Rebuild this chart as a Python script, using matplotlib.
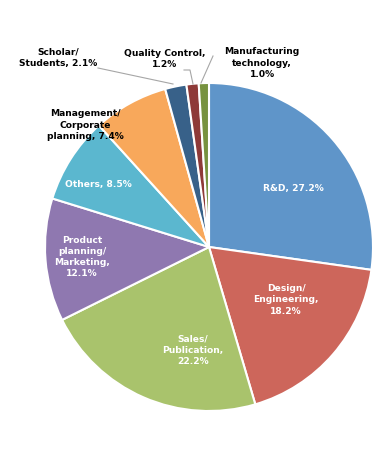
import matplotlib
matplotlib.use("Agg")
import matplotlib.pyplot as plt

labels = ["R&D, 27.2%", "Design/\nEngineering,\n18.2%", "Sales/\nPublication,\n22.2%",
          "Product\nplanning/\nMarketing,\n12.1%", "Others, 8.5%",
          "Management/\nCorporate\nplanning, 7.4%", "Scholar/\nStudents, 2.1%",
          "Quality Control,\n1.2%", "Manufacturing\ntechnology,\n1.0%"]
shares = [27.2, 18.2, 22.2, 12.1, 8.5, 7.4, 2.1, 1.2, 1.0]
colors = ["#5f95c9", "#cd665b", "#a9c36c", "#8f78b0", "#5bb7cf",
          "#f8a85b", "#386189", "#8e3a38", "#77923f"]

# label centres in pixel coords (x, y from top), text colour
label_pos = [(293, 188), (286, 300), (193, 350), (82, 257), (98, 185),
             (85, 125), (58, 58), (165, 59), (262, 63)]
label_col = ["white"] * 5 + ["black"] * 4
# leader lines for the small slices (label end -> slice)
leaders = [[(98, 68), (173, 84)], [(184, 70), (190, 70), (193, 84)], [(213, 56), (201, 83)]]

W, H = 390, 450
fig = plt.figure(figsize=(3.9, 4.5), dpi=100)
ax = fig.add_axes([0, 0, 1, 1])

ax.pie(shares, colors=colors, startangle=90, counterclock=False,
       center=(209, H - 247), radius=164,
       wedgeprops=dict(edgecolor="white", linewidth=1.5))

ax.set_xlim(0, W)
ax.set_ylim(0, H)
ax.set_aspect("equal")
ax.axis("off")

for lab, (x, y), c in zip(labels, label_pos, label_col):
    ax.text(x, H - y, lab, ha="center", va="center", color=c,
            fontsize=6.6, fontweight="bold", linespacing=1.3)

for pts in leaders:
    xs = [p[0] for p in pts]
    ys = [H - p[1] for p in pts]
    ax.plot(xs, ys, color="#a6a6a6", lw=0.8)

fig.savefig("out.png", dpi=100)
